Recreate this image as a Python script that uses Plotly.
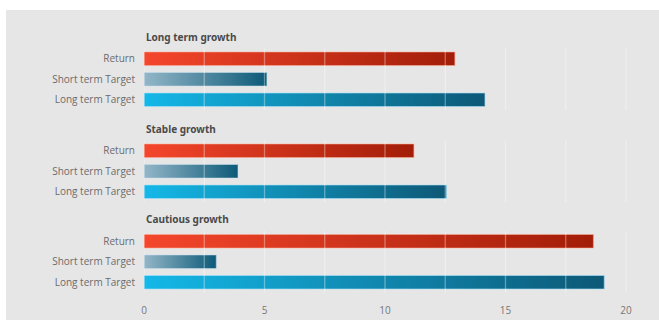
import numpy as np
import plotly.graph_objects as go

# ---- data -------------------------------------------------------------
groups = ["Long term growth", "Stable growth", "Cautious growth"]
measures = ["Return", "Short term Target", "Long term Target"]
return_vals = [12.9, 11.2, 18.65]
short_target_vals = [5.1, 3.9, 3.0]
long_target_vals = [14.15, 12.55, 19.1]
x_ticks = [0, 5, 10, 15, 20]

# ---- styling ----------------------------------------------------------
W_PX, H_PX = 659, 320
L, R, T, B = 144, 8, 47, 27
PLOT_W = W_PX - L - R
PLOT_H = H_PX - T - B
BG = "#e6e6e6"

gradients = {
    "Return": ("#f4472c", "#a21d08", "rgba(255,170,150,0.55)"),
    "Short term Target": ("#93b6c8", "#0d5a78", "rgba(200,225,240,0.5)"),
    "Long term Target": ("#14b8e8", "#0d5876", "rgba(170,225,250,0.6)"),
}
BAR_HALF = 0.33

# pixel rows of each group block (top, bottom)
blocks_px = [(48.5, 110.0), (140.5, 202.0), (231.0, 292.5)]


def to_paper_y(py):
    return (H_PX - B - py) / PLOT_H


def clamp(v):
    return min(1.0, max(0.0, v))


fig = go.Figure()
series = [return_vals, short_target_vals, long_target_vals]

for g, name in enumerate(groups):
    yname = "y" if g == 0 else f"y{g + 1}"
    for i, m in enumerate(measures):
        v = series[i][g]
        c0, c1, halo = gradients[m]
        fig.add_trace(go.Scatter(
            x=[0, v, v, 0, 0],
            y=[i - BAR_HALF, i - BAR_HALF, i + BAR_HALF, i + BAR_HALF, i - BAR_HALF],
            mode="lines",
            fill="toself",
            fillgradient=dict(type="horizontal", colorscale=[[0, c0], [1, c1]]),
            line=dict(color=halo, width=1.2),
            xaxis="x", yaxis=yname,
            name=f"{name} – {m}",
            hoverinfo="text",
            text=f"{m}: {v}",
            showlegend=False,
        ))

layout = dict(
    width=W_PX, height=H_PX,
    margin=dict(l=L, r=R, t=T, b=B),
    paper_bgcolor=BG, plot_bgcolor=BG,
    font=dict(family="Open Sans", color="#6b6b6b", size=10),
    showlegend=False,
    xaxis=dict(
        range=[0, PLOT_W / 24.1], anchor="y3", automargin=False,
        tickvals=x_ticks, ticktext=[str(t) for t in x_ticks],
        showgrid=False, zeroline=False, showline=False,
        ticks="", ticklabelstandoff=10,
        tickfont=dict(size=10, color="#777777"),
    ),
)

annotations = []
shapes = []
grid_vals = np.arange(0, 20.01, 2.5)
for g, name in enumerate(groups):
    key = "yaxis" if g == 0 else f"yaxis{g + 1}"
    top, bot = blocks_px[g]
    layout[key] = dict(
        domain=[clamp(to_paper_y(bot)), clamp(to_paper_y(top))],
        range=[2.5, -0.5], anchor="x", automargin=False,
        tickvals=[0, 1, 2], ticktext=measures,
        showgrid=False, zeroline=False, showline=False,
        ticks="", ticklabelstandoff=8,
        tickfont=dict(size=10, color="#6b6b6b"),
    )
    yref = "y" if g == 0 else f"y{g + 1}"
    annotations.append(dict(
        text=name, xref="x", x=0, yref=f"{yref} domain", y=1,
        xanchor="left", yanchor="middle", yshift=12, showarrow=False,
        font=dict(family="Noto Sans", size=10, color="#4a4a4a", weight="bold"),
    ))
    for xv in grid_vals:
        shapes.append(dict(
            type="line", xref="x", yref=f"{yref} domain",
            x0=xv, x1=xv, y0=0, y1=1, layer="above",
            line=dict(color="rgba(255,255,255,0.35)", width=1.3),
        ))

# white frame strips along the top and left edges
shapes.append(dict(type="rect", xref="paper", yref="paper", layer="above",
                   x0=-L / PLOT_W, x1=(W_PX - L) / PLOT_W,
                   y0=to_paper_y(10), y1=to_paper_y(0),
                   fillcolor="white", line=dict(width=0)))
shapes.append(dict(type="rect", xref="paper", yref="paper", layer="above",
                   x0=-L / PLOT_W, x1=(6 - L) / PLOT_W,
                   y0=to_paper_y(H_PX), y1=to_paper_y(0),
                   fillcolor="white", line=dict(width=0)))

layout["annotations"] = annotations
layout["shapes"] = shapes
fig.update_layout(**layout)

fig.write_html("out.html")
